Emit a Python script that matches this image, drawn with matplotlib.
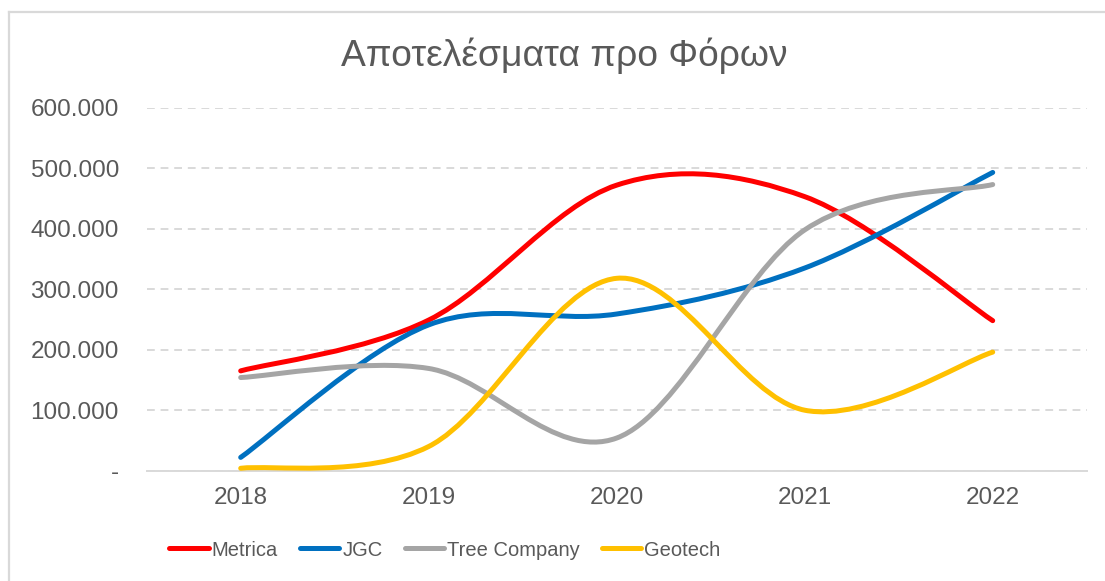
import matplotlib.pyplot as plt
import numpy as np
from matplotlib.path import Path
from matplotlib.patches import PathPatch
from matplotlib.lines import Line2D

plt.rcParams['font.family'] = ['Liberation Sans', 'DejaVu Sans']

years = ['2018', '2019', '2020', '2021', '2022']
metrica = [165000, 249000, 472000, 453000, 248000]
jgc = [22000, 241000, 259000, 335000, 493000]
tree = [154000, 169000, 54000, 398000, 473000]
geotech = [4000, 40000, 318000, 100000, 196000]

series = [('Metrica', metrica, '#FF0000'),
          ('JGC', jgc, '#0070C0'),
          ('Tree Company', tree, '#A5A5A5'),
          ('Geotech', geotech, '#FFC000')]


def smooth_path(x, y):
    # excel-like smoothed line: cubic bezier through each point
    pts = np.column_stack([x, y]).astype(float)
    ext = np.vstack([pts[0], pts, pts[-1]])
    verts = [pts[0]]
    codes = [Path.MOVETO]
    for i in range(len(pts) - 1):
        p0, p1, p2, p3 = ext[i], ext[i + 1], ext[i + 2], ext[i + 3]
        c1 = p1 + (p2 - p0) / 6.0
        c2 = p2 - (p3 - p1) / 6.0
        verts += [c1, c2, p2]
        codes += [Path.CURVE4] * 3
    return Path(verts, codes)


fig = plt.figure(figsize=(11.05, 5.81), dpi=100)
ax = fig.add_axes([146.7 / 1105, 1 - 470.7 / 581, 940 / 1105, (470.7 - 107.7) / 581])

x = np.arange(len(years))
handles = []
for name, vals, col in series:
    patch = PathPatch(smooth_path(x, vals), facecolor='none', edgecolor=col,
                      lw=3.6, capstyle='round', joinstyle='round', zorder=3)
    ax.add_patch(patch)
    handles.append(Line2D([], [], color=col, lw=3.6, solid_capstyle='round', label=name))

ax.set_xlim(-0.5, len(years) - 0.5)
ax.set_ylim(0, 600000)
ax.set_xticks(x)
ax.set_xticklabels(years)
ax.set_yticks(np.arange(0, 600001, 100000))
ax.set_yticklabels(['-'] + [f'{v:,}'.replace(',', '.') for v in range(100000, 600001, 100000)])
ax.tick_params(length=0, labelsize=17.5, colors='#595959')
ax.tick_params(axis='y', pad=20)
ax.tick_params(axis='x', pad=12)
ax.grid(axis='y', color='#D9D9D9', ls=(0, (4, 3)), lw=1.4)
for s in ['top', 'right', 'left']:
    ax.spines[s].set_visible(False)
ax.spines['bottom'].set_color('#D9D9D9')
ax.spines['bottom'].set_linewidth(1.4)
ax.set_axisbelow(True)

fig.text(564 / 1105, 1 - 56 / 581, 'Αποτελέσματα προ Φόρων', ha='center', va='center',
         fontsize=26.8, color='#595959')

fig.legend(handles=handles, loc='center', bbox_to_anchor=(445 / 1105, 1 - 550 / 581), ncol=4,
           frameon=False, fontsize=14.5, labelcolor='#595959', handlelength=1.95,
           handletextpad=0.15, columnspacing=1.1)

# chart border
fig.add_artist(Line2D([8.5 / 1105, 8.5 / 1105], [0, 1 - 11.5 / 581], color='#D9D9D9', lw=1.6))
fig.add_artist(Line2D([8.5 / 1105, 1], [1 - 11.5 / 581, 1 - 11.5 / 581], color='#D9D9D9', lw=1.6))

fig.savefig('out.png', dpi=100)
